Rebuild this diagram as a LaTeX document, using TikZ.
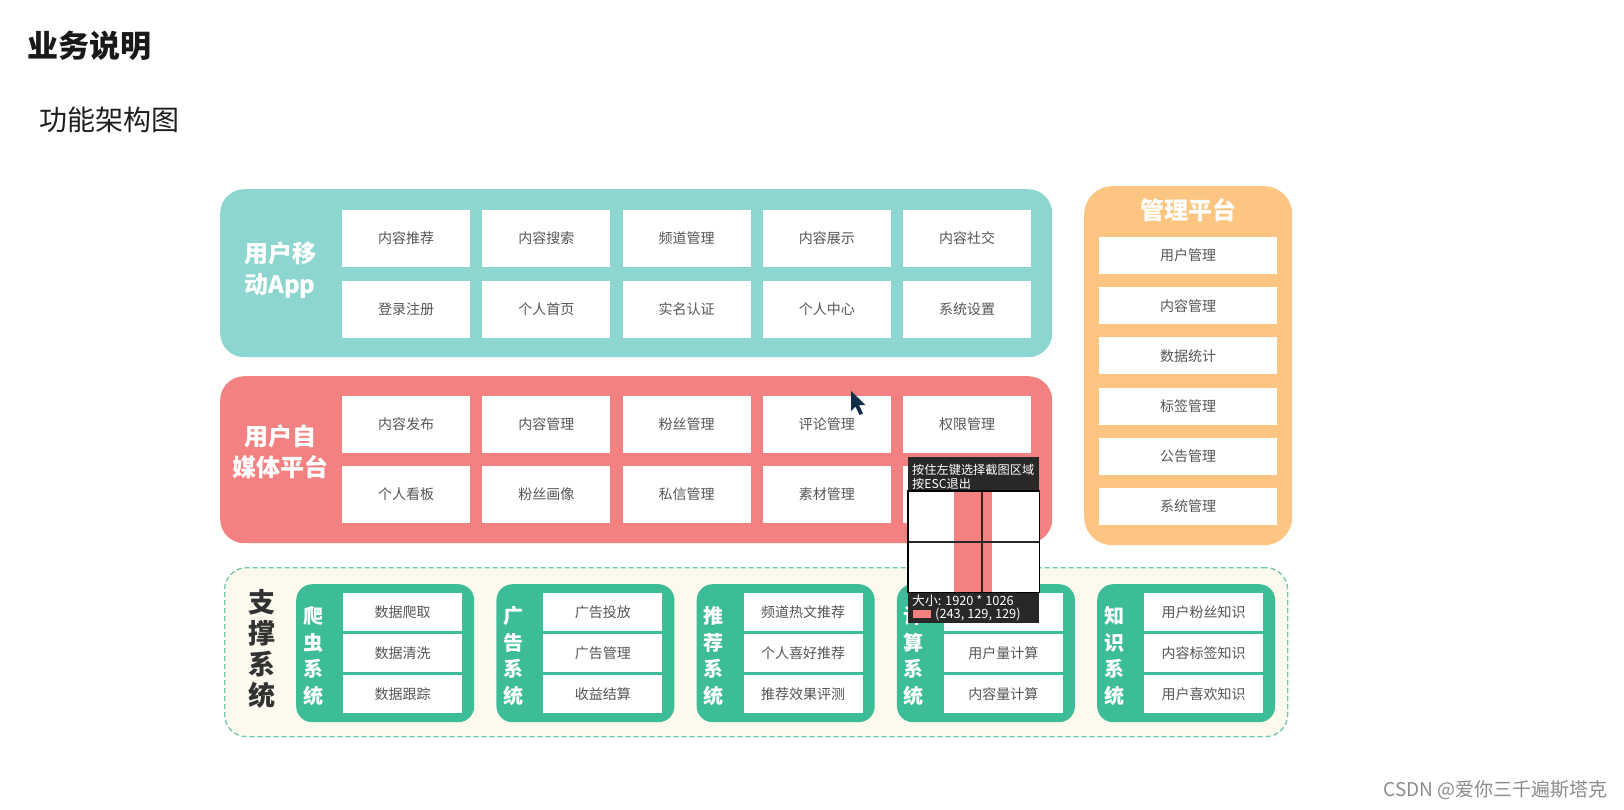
\documentclass[tikz,border=0pt]{standalone}
\usepackage{fontspec}
\setmainfont{Noto Sans CJK SC}
\definecolor{appteal}{RGB}{141,214,207}
\definecolor{mediared}{RGB}{243,129,129}
\definecolor{mgmtorange}{RGB}{253,197,130}
\definecolor{subgreen}{RGB}{60,189,151}
\definecolor{dashgreen}{RGB}{110,200,170}
\definecolor{cream}{RGB}{252,250,238}
\definecolor{celltext}{RGB}{85,85,85}
\definecolor{darkband}{RGB}{40,40,40}
\definecolor{crossdark}{RGB}{70,30,30}
\definecolor{cursorblue}{RGB}{20,45,75}
\definecolor{markgray}{RGB}{140,140,140}
\begin{document}
\begin{tikzpicture}[x=1pt,y=-1pt,
  cell/.style={draw=none,fill=white,minimum width=128pt,minimum height=57pt,inner sep=0pt,
    text=celltext,font=\fontsize{14}{16}\selectfont},
  mcell/.style={cell,minimum width=178pt,minimum height=37pt},
  scell/.style={cell,minimum width=119pt,minimum height=38pt},
  panel/.style={draw=none,inner sep=0pt,anchor=north west},
  biglabel/.style={text=white,align=center,font=\fontsize{24}{31}\bfseries\selectfont},
  vlabel/.style={text=white,align=center,font=\fontsize{20}{26.5}\bfseries\selectfont},
  tiptext/.style={text=white,anchor=west,inner sep=0pt,font=\fontsize{12.8}{14}\selectfont},
  tiphtext/.style={tiptext,font=\fontsize{12.2}{14}\selectfont}
]
\useasboundingbox[fill=white] (0,0) rectangle (1624,809);

% titles
\node[anchor=west,inner sep=0pt,text={rgb,255:red,25;green,25;blue,25},font=\fontsize{31}{34}\bfseries\selectfont] (title) at (27,46) {业务说明};
\node[anchor=west,inner sep=0pt,text={rgb,255:red,30;green,30;blue,30},font=\fontsize{28}{30}\selectfont] (subtitle) at (39,119.5) {功能架构图};

% user mobile app
\node[panel,fill=appteal,rounded corners=24pt,minimum width=832pt,minimum height=168pt] (app) at (220,189) {};
\node[biglabel] (applabel) at (280,270) {用户移\\动App};
\foreach \t [count=\i] in {内容推荐,内容搜索,频道管理,内容展示,内容社交}
  \node[cell] (a1\i) at ({406+140.25*(\i-1)},238.5) {\t};
\foreach \t [count=\i] in {登录注册,个人首页,实名认证,个人中心,系统设置}
  \node[cell] (a2\i) at ({406+140.25*(\i-1)},309.5) {\t};

% self media platform
\node[panel,fill=mediared,rounded corners=24pt,minimum width=832pt,minimum height=167pt] (media) at (220,376) {};
\node[biglabel] (medialabel) at (280,452) {用户自\\媒体平台};
\foreach \t [count=\i] in {内容发布,内容管理,粉丝管理,评论管理,权限管理}
  \node[cell] (m1\i) at ({406+140.25*(\i-1)},424.5) {\t};
\foreach \t [count=\i] in {个人看板,粉丝画像,私信管理,素材管理,{}}
  \node[cell] (m2\i) at ({406+140.25*(\i-1)},494.5) {\t};

% management platform
\node[panel,fill=mgmtorange,rounded corners=28pt,minimum width=208pt,minimum height=359pt] (mgmt) at (1084,186) {};
\node[text=white,font=\fontsize{24}{26}\bfseries\selectfont] (mgmtlabel) at (1188,210) {管理平台};
\foreach \t [count=\i] in {用户管理,内容管理,数据统计,标签管理,公告管理,系统管理}
  \node[mcell] (g\i) at (1188,{255.5+50.2*(\i-1)}) {\t};

% support systems
\node[panel,fill=cream,draw=dashgreen,line width=1.3pt,dash pattern=on 5pt off 3pt,rounded corners=22pt,minimum width=1063pt,minimum height=169pt] (support) at (224,567) {};
\node[align=center,text={rgb,255:red,50;green,50;blue,50},font=\fontsize{27}{31}\bfseries\selectfont] (supportlabel) at (262,649) {支\\撑\\系\\统};

\foreach \k/\p/\q/\a/\b/\c in {1/爬/虫/数据爬取/数据清洗/数据跟踪,2/广/告/广告投放/广告管理/收益结算,3/推/荐/频道热文推荐/个人喜好推荐/推荐效果评测,4/计/算/{}/用户量计算/内容量计算,5/知/识/用户粉丝知识/内容标签知识/用户喜欢知识}{
  \pgfmathsetmacro{\L}{296+200.25*(\k-1)}
  \node[panel,fill=subgreen,rounded corners=16pt,minimum width=178pt,minimum height=138pt] (sys\k) at (\L,584) {};
  \node[vlabel] (sysl\k) at (\L+17,656) {\p\\\q\\系\\统};
  \node[scell] (s\k a) at (\L+106.5,612) {\a};
  \node[scell] (s\k b) at (\L+106.5,653) {\b};
  \node[scell] (s\k c) at (\L+106.5,694) {\c};
}

% mouse cursor
\fill[cursorblue] (851,391) -- (851,411) -- (855.5,406.5) -- (859.5,415) -- (863,413.5) -- (859,405) -- (865.5,405) -- cycle;

% screenshot tool tooltip overlay
\node[panel,fill=white,minimum width=131pt,minimum height=101pt] (zoomarea) at (908,491) {};
\node[panel,fill=mediared,minimum width=38pt,minimum height=101pt] (zoomred) at (954,491) {};
\node[panel,fill=darkband,minimum width=131pt,minimum height=34pt] (tiphead) at (908,457) {};
\node[panel,fill=darkband,minimum width=131pt,minimum height=31pt] (tipfoot) at (908,592) {};
\draw[crossdark,line width=2.5pt] (zoomarea.north) ++(8.5,0) coordinate (cvt) -- (cvt |- zoomarea.south);
\draw[darkband,line width=2pt] (zoomarea.west) -- (zoomarea.east);
\draw[black,line width=1.2pt] (zoomarea.north west) rectangle (zoomarea.south east);
\node[tiphtext] (tipl1) at (912,470) {按住左键选择截图区域};
\node[tiphtext] (tipl2) at (912,484) {按ESC退出};
\node[tiptext] (tipl3) at (912,601) {大小: 1920 * 1026};
\node[panel,fill=mediared,minimum width=18pt,minimum height=8pt] (swatch) at (913,610) {};
\node[tiptext] (tipl4) at (935,614.5) {(243, 129, 129)};

% watermark
\node[anchor=east,inner sep=0pt,text=markgray,font=\fontsize{19}{21}\selectfont] (watermark) at (1608,790) {CSDN @爱你三千遍斯塔克};
\end{tikzpicture}
\end{document}
